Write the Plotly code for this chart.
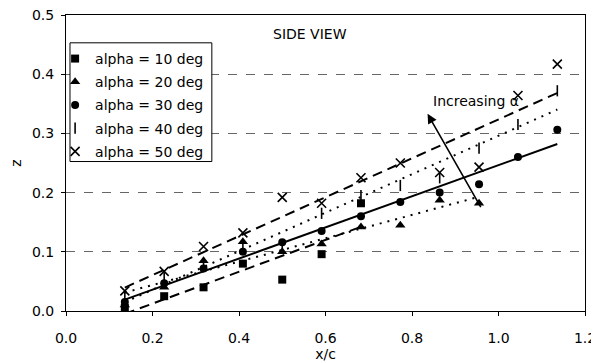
import numpy as np
import plotly.graph_objects as go

# ---- data ----
x_c = [0.136, 0.227, 0.318, 0.409, 0.5, 0.591, 0.682, 0.773, 0.864, 0.955, 1.045, 1.136]

z_a10 = [0.005, 0.025, 0.040, 0.080, 0.053, 0.096, 0.182]
z_a20 = [0.010, 0.040, 0.085, 0.117, 0.100, 0.113, 0.142, 0.145, 0.187, 0.182]
z_a30 = [0.015, 0.047, 0.072, 0.100, 0.116, 0.135, 0.160, 0.184, 0.200, 0.214, 0.260, 0.306]
z_a40 = [0.025, 0.055, 0.080, 0.105, 0.110, 0.165, 0.195, 0.212, 0.225, 0.275, 0.315, 0.372]
z_a50 = [0.034, 0.067, 0.109, 0.132, 0.192, 0.182, 0.225, 0.250, 0.234, 0.243, 0.364, 0.417]

series_names = ["alpha = 10 deg", "alpha = 20 deg", "alpha = 30 deg",
                "alpha = 40 deg", "alpha = 50 deg"]
series_values = [z_a10, z_a20, z_a30, z_a40, z_a50]

x_ticks = [0.0, 0.2, 0.4, 0.6, 0.8, 1.0, 1.2]
y_ticks = [0.0, 0.1, 0.2, 0.3, 0.4, 0.5]

# ---- styles ----
symbols = ["square", "triangle-up", "circle", "line-ns-open", "x-thin-open"]
sizes = [8, 9, 8, 8, 9]
dashes = ["10px,6px", "2px,6px", "solid", "2px,6px", "10px,6px"]
FONT = "DejaVu Sans, Arial, sans-serif"

fig = go.Figure()

for i, (name, vals) in enumerate(zip(series_names, series_values)):
    xs = np.array(x_c[:len(vals)])
    ys = np.array(vals)
    # linear trendline through the series
    k, b = np.polyfit(xs, ys, 1)
    xl = np.array([xs.min(), xs.max()])
    fig.add_trace(go.Scatter(
        x=xl, y=k * xl + b, mode="lines", legendgroup=name,
        line=dict(color="black", width=2, dash=dashes[i]),
        showlegend=False, hoverinfo="skip"))

for i, (name, vals) in enumerate(zip(series_names, series_values)):
    open_sym = symbols[i].endswith("open")
    fig.add_trace(go.Scatter(
        x=x_c[:len(vals)], y=vals, mode="markers", name=name,
        legendgroup=name,
        marker=dict(symbol=symbols[i], size=sizes[i], color="black",
                    line=dict(color="black", width=1.6 if open_sym else 0))))

fig.add_annotation(x=0.563, y=0.468, xref="x", yref="y", text="SIDE VIEW",
                   showarrow=False, font=dict(family=FONT, size=14, color="black"))
fig.add_annotation(x=0.947, y=0.355, xref="x", yref="y", text="Increasing α",
                   showarrow=False, font=dict(family=FONT, size=14, color="black"))
fig.add_annotation(x=0.836, y=0.333, ax=0.961, ay=0.173, xref="x", yref="y",
                   axref="x", ayref="y", text="", showarrow=True,
                   arrowhead=2, arrowsize=1.2, arrowwidth=1.6, arrowcolor="black")

# legend frame (white box with black border)
fig.add_shape(type="rect", xref="paper", yref="paper",
              x0=0.0077, x1=0.281, y0=0.505, y1=0.906,
              line=dict(color="black", width=1), fillcolor="white", layer="above")

# the page body adds an 8px offset, so the figure is 8px smaller and shifted
fig.update_layout(
    width=591, height=355,
    margin=dict(l=58, r=14, t=7, b=52),
    paper_bgcolor="white", plot_bgcolor="white",
    font=dict(family=FONT, size=14, color="black"),
    showlegend=True,
    legend=dict(x=-0.021, y=0.9055, xanchor="left", yanchor="top",
                bgcolor="rgba(0,0,0,0)", borderwidth=0,
                font=dict(family=FONT, size=14, color="black"),
                tracegroupgap=2, itemwidth=30),
)
fig.update_xaxes(range=[0, 1.2], tickvals=x_ticks, tickformat=".1f",
                 showgrid=False, zeroline=False, automargin=False,
                 ticklabeloverflow="allow", ticklabelstandoff=10,
                 showline=True, linecolor="black", linewidth=1, mirror=True,
                 ticks="outside", ticklen=4, tickcolor="black",
                 title=dict(text="x/c", standoff=1,
                            font=dict(family=FONT, size=14)))
fig.update_yaxes(range=[0, 0.5], tickvals=y_ticks, tickformat=".1f",
                 showgrid=True, gridcolor="#666", griddash="dash", gridwidth=1,
                 zeroline=False, automargin=False,
                 ticklabeloverflow="allow", ticklabelstandoff=4,
                 showline=True, linecolor="black", linewidth=1, mirror=True,
                 ticks="outside", ticklen=4, tickcolor="black",
                 title=dict(text="z", standoff=12,
                            font=dict(family=FONT, size=14)))

fig.write_html("out.html")
